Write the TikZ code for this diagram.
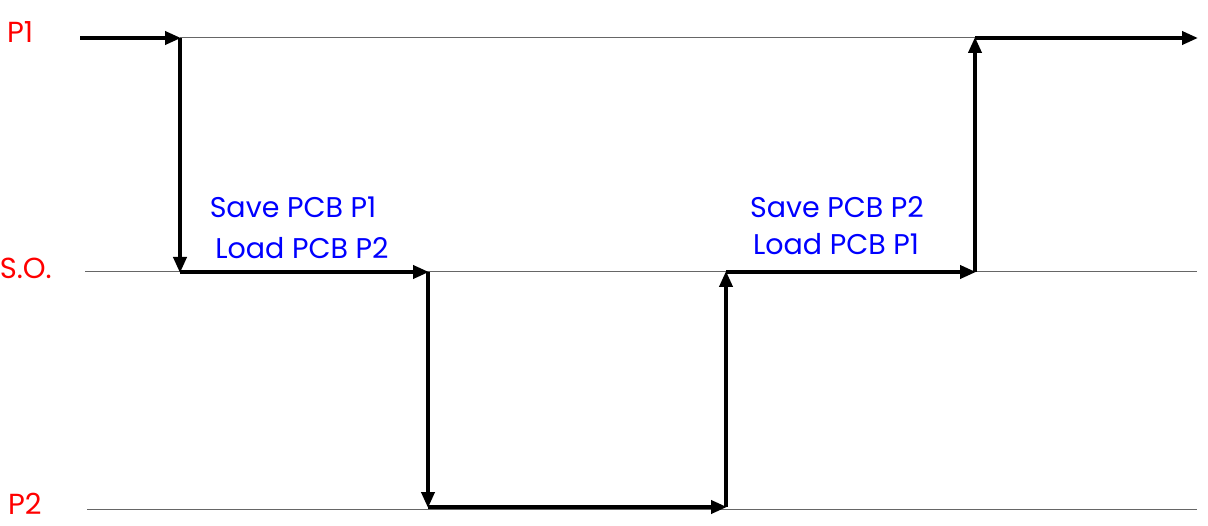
\documentclass[tikz,border=0pt]{standalone}
\usepackage{fontspec}
\setmainfont{Poppins}
\usetikzlibrary{arrows.meta}
\definecolor{lblred}{RGB}{255,0,0}
\definecolor{lblblue}{RGB}{0,0,255}
\tikzset{
  thinline/.style={draw=black!60, line width=1pt},
  flow/.style={draw=black, line width=3.8pt, -{Triangle[length=16pt,width=13pt]}, shorten >=-1pt},
  statelbl/.style={text=lblred, font=\fontsize{29}{34}\selectfont, inner sep=0pt},
  actlbl/.style={text=lblblue, font=\fontsize{28.5}{33}\selectfont, inner sep=0pt},
}
\begin{document}
\begin{tikzpicture}[x=1pt,y=-1pt]
\useasboundingbox (0,0) rectangle (1208,526);
% state labels
\node[statelbl, anchor=west] (lp1) at (7,32) {P1};
\node[statelbl, anchor=east] (lso) at (52,268) {S.O.};
\node[statelbl, anchor=west] (lp2) at (8,504) {P2};
% key points
\coordinate (s) at (80,38);
\coordinate (a) at (180,38);
\coordinate (b) at (180,272);
\coordinate (c) at (428,272);
\coordinate (d) at (428,507);
\coordinate (e) at (726,507);
\coordinate (f) at (726,272);
\coordinate (g) at (975,272);
\coordinate (h) at (975,38);
\coordinate (t) at (1197,38);
\coordinate (so0) at (85,272);
\coordinate (so1) at (1197,272);
\coordinate (p20) at (87,509);
\coordinate (p21) at (1197,509);
% thin state lines
\draw[thinline] (a) -- (h);
\draw[thinline] (so0) -- (so1);
\draw[thinline] (p20) -- (p21);
% flow arrows
\draw[flow] (s) -- (a);
\draw[flow] (a) -- (b);
\draw[flow] (b) -- (c);
\draw[flow] (c) -- (d);
\draw[flow] (d) -- (e);
\draw[flow] (e) -- (f);
\draw[flow] (f) -- (g);
\draw[flow] (g) -- (h);
\draw[flow] (h) -- (t);
% action labels
\node[actlbl] (sv1) at (293,207) {Save PCB P1};
\node[actlbl] (ld2) at (302,248) {Load PCB P2};
\node[actlbl] (sv2) at (837,207) {Save PCB P2};
\node[actlbl] (ld1) at (836,244) {Load PCB P1};
\end{tikzpicture}
\end{document}
